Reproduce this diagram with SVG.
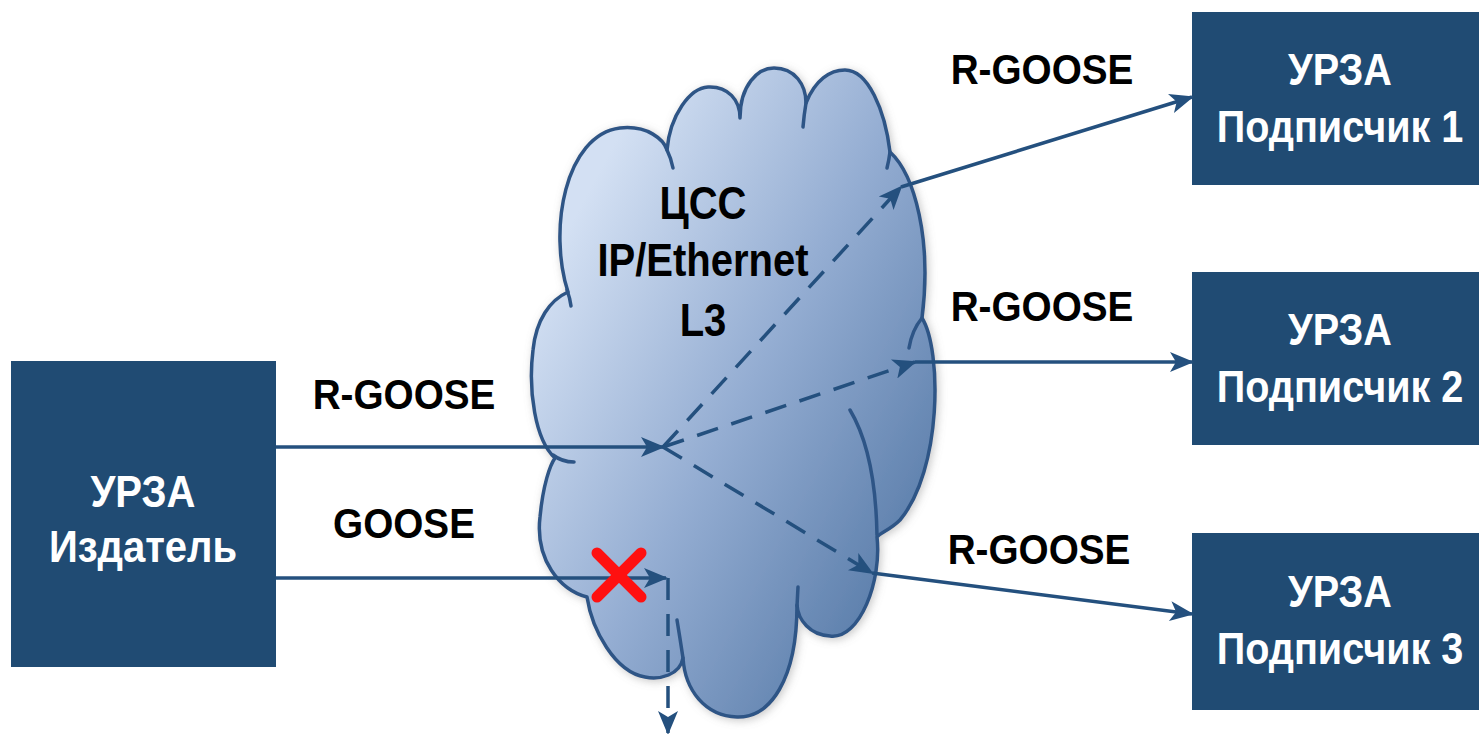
<svg xmlns="http://www.w3.org/2000/svg" width="1479" height="734" viewBox="0 0 1479 734">
<style>
.box{fill:#204b73;}
.wt{fill:#ffffff;font-family:"Liberation Sans",Arial,sans-serif;font-weight:bold;font-size:45px;text-anchor:middle;}
.bt{fill:#000000;font-family:"Liberation Sans",Arial,sans-serif;font-weight:bold;font-size:43px;text-anchor:middle;}
.ct{fill:#000000;font-family:"Liberation Sans",Arial,sans-serif;font-weight:bold;font-size:46px;text-anchor:middle;}
.ln{fill:none;stroke:#24507e;stroke-width:3.5;}
.ds{stroke-dasharray:22 14;}
.tail{fill:none;stroke:#2e5586;stroke-width:3.5;stroke-linecap:round;}
</style>
<defs>
<linearGradient id="cg" x1="530" y1="300" x2="940" y2="520" gradientUnits="userSpaceOnUse">
<stop offset="0" stop-color="#d3e0f3"/>
<stop offset="0.5" stop-color="#94add2"/>
<stop offset="1" stop-color="#5a7daa"/>
</linearGradient>
<filter id="sh" x="-10%" y="-10%" width="120%" height="120%">
<feDropShadow dx="2" dy="2" stdDeviation="4" flood-color="#777" flood-opacity="0.4"/>
</filter>
<marker id="ah" viewBox="0 0 12 10" refX="11" refY="5" markerWidth="26" markerHeight="20" markerUnits="userSpaceOnUse" orient="auto">
<path d="M0,0 L12,5 L0,10 L3,5 z" fill="#24507e"/>
</marker>
</defs>

<g id="cloud">
<path filter="url(#sh)" fill="url(#cg)" stroke="#2e5586" stroke-width="3.5" stroke-linejoin="round" d="M 568,292 C 548,230 565,135 620,128 C 648,125 664,140 667,150 C 670,115 690,88 708,87 C 728,86 740,100 740,118 C 740,85 758,68 774,68 C 795,68 806,85 806,103 C 815,80 830,70 845,70 C 868,70 885,110 890,152 C 915,175 932,240 922,318 C 942,350 942,470 900,520 C 890,530 880,533 877,537 C 882,580 860,640 830,636 C 810,635 798,620 797,605 C 797,680 770,718 737,717 C 705,716 685,690 683,658 C 680,675 660,680 645,677 C 615,672 592,630 587,597 C 560,590 535,560 540,517 C 543,485 550,465 555,458 C 535,440 528,390 533,350 C 536,320 550,300 568,292 Z"/>
<path class="tail" d="M 567,290 Q 570,298 571,306"/>
<path class="tail" d="M 553,455 Q 562,462 574,462"/>
<path class="tail" d="M 667,150 Q 671,158 673,168"/>
<path class="tail" d="M 806,103 Q 804,115 803,127"/>
<path class="tail" d="M 890,152 Q 889,160 887,168"/>
<path class="tail" d="M 922,318 Q 912,330 909,348"/>
<path class="tail" d="M 850,410 C 868,440 876,480 877,535"/>
<path class="tail" d="M 797,606 L 798,587"/>
<path class="tail" d="M 683,658 Q 680,638 677,620"/>
<text class="ct" transform="translate(703,219) scale(0.87,1)">ЦСС</text>
<text class="ct" transform="translate(703,276) scale(0.87,1)">IP/Ethernet</text>
<text class="ct" transform="translate(703,336) scale(0.87,1)">L3</text>
</g>

<g id="publisher">
<rect class="box" x="11" y="361" width="265" height="306"/>
<text class="wt" transform="translate(143,507) scale(0.89,1)">УРЗА</text>
<text class="wt" transform="translate(143,562) scale(0.89,1)">Издатель</text>
</g>

<g id="sub1">
<rect class="box" x="1192" y="12" width="300" height="173"/>
<text class="wt" transform="translate(1340,85) scale(0.88,1)">УРЗА</text>
<text class="wt" transform="translate(1340,142) scale(0.88,1)">Подписчик 1</text>
</g>
<g id="sub2">
<rect class="box" x="1192" y="272" width="300" height="173"/>
<text class="wt" transform="translate(1340,345) scale(0.88,1)">УРЗА</text>
<text class="wt" transform="translate(1340,402) scale(0.88,1)">Подписчик 2</text>
</g>
<g id="sub3">
<rect class="box" x="1192" y="533" width="300" height="177"/>
<text class="wt" transform="translate(1340,607) scale(0.88,1)">УРЗА</text>
<text class="wt" transform="translate(1340,664) scale(0.88,1)">Подписчик 3</text>
</g>

<g id="connectors">
<line class="ln" x1="276" y1="447" x2="663" y2="447" marker-end="url(#ah)"/>
<line class="ln" x1="276" y1="578" x2="666" y2="578" marker-end="url(#ah)"/>
<path class="ln ds" d="M 668,578 V 733" marker-end="url(#ah)"/>
<line class="ln ds" x1="663" y1="447" x2="901" y2="187" marker-end="url(#ah)"/>
<line class="ln ds" x1="663" y1="447" x2="915" y2="362" marker-end="url(#ah)"/>
<line class="ln ds" x1="663" y1="447" x2="872" y2="573" marker-end="url(#ah)"/>
<line class="ln" x1="901" y1="187" x2="1192" y2="97" marker-end="url(#ah)"/>
<line class="ln" x1="915" y1="362" x2="1192" y2="362" marker-end="url(#ah)"/>
<line class="ln" x1="872" y1="573" x2="1192" y2="614" marker-end="url(#ah)"/>
</g>

<g id="labels">
<text class="bt" transform="translate(404,409) scale(0.9,1)">R-GOOSE</text>
<text class="bt" transform="translate(404,538) scale(0.9,1)">GOOSE</text>
<text class="bt" transform="translate(1042,84) scale(0.9,1)">R-GOOSE</text>
<text class="bt" transform="translate(1042,321) scale(0.9,1)">R-GOOSE</text>
<text class="bt" transform="translate(1039,564) scale(0.9,1)">R-GOOSE</text>
</g>

<g id="blocked" stroke="#ff1010" stroke-width="11" stroke-linecap="round">
<line x1="597" y1="553" x2="641" y2="597"/>
<line x1="641" y1="553" x2="597" y2="597"/>
</g>
</svg>
